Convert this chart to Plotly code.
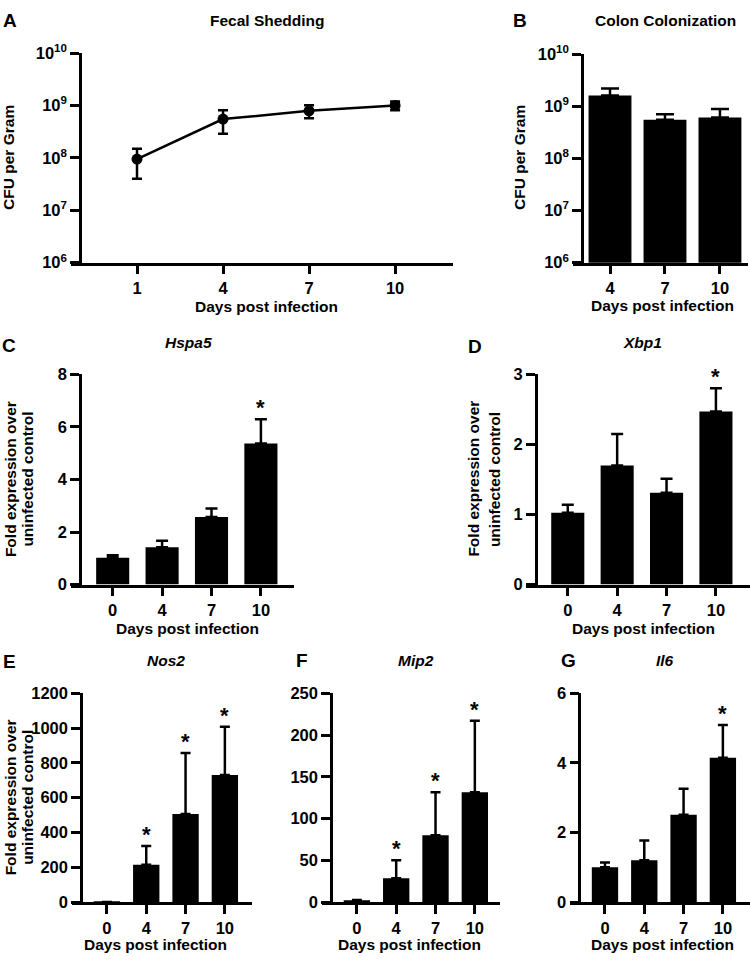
import plotly.graph_objects as go

# ---------------- data ----------------
fecal_days = [1, 4, 7, 10]
fecal_cfu = [9.5e7, 5.5e8, 7.9e8, 1.0e9]
fecal_sem = [5.5e7, 2.6e8, 2.2e8, 1.9e8]

colon_days = ["4", "7", "10"]
colon_cfu = [1.6e9, 5.5e8, 6.1e8]
colon_sem = [6.0e8, 1.5e8, 2.8e8]

gene_days = ["0", "4", "7", "10"]

hspa5_mean = [1.02, 1.42, 2.57, 5.37]
hspa5_sem = [0.10, 0.25, 0.32, 0.92]
hspa5_sig = [False, False, False, True]

xbp1_mean = [1.025, 1.70, 1.31, 2.47]
xbp1_sem = [0.115, 0.45, 0.20, 0.33]
xbp1_sig = [False, False, False, True]

nos2_mean = [1.0, 215, 506, 731]
nos2_sem = [0.3, 107, 351, 276]
nos2_sig = [False, True, True, True]

mip2_mean = [2.0, 28.5, 80, 131.6]
mip2_sem = [0.5, 21.5, 51.6, 85.4]
mip2_sig = [False, True, True, True]

il6_mean = [1.00, 1.20, 2.51, 4.15]
il6_sem = [0.14, 0.57, 0.75, 0.94]
il6_sig = [False, False, False, True]

log_tick_vals = [1e6, 1e7, 1e8, 1e9, 1e10]
log_tick_text = ["10<sup>6</sup>", "10<sup>7</sup>", "10<sup>8</sup>", "10<sup>9</sup>", "10<sup>10</sup>"]

# ---------------- style / layout helpers ----------------
W, H = 750, 965
FONT = "Liberation Sans, Arial, sans-serif"
FS = 15.5
TFS = 16.5
LW = 2.5


def fx(p):
    return p / W


def fy(p):
    return 1 - p / H


fig = go.Figure()
layout = dict(
    width=W, height=H, autosize=False,
    margin=dict(l=0, r=0, t=0, b=0),
    paper_bgcolor="white", plot_bgcolor="white",
    showlegend=False,
    font=dict(family=FONT, size=FS, color="black"),
)
annotations = []


def add_axes(idx, xdom, yaxis_px, ydom, xrange, yrange, xtype, ytype,
             ytickvals=None, yticktext=None, dtick=None):
    xa = "xaxis" if idx == 1 else f"xaxis{idx}"
    ya = "yaxis" if idx == 1 else f"yaxis{idx}"
    yname = "y" if idx == 1 else f"y{idx}"
    common = dict(showgrid=False, zeroline=False, showline=True, linecolor="black",
                  linewidth=LW, ticks="outside", ticklen=9, tickwidth=LW,
                  tickcolor="black",
                  tickfont=dict(family=FONT, size=TFS, color="black", weight="bold"))
    layout[xa] = dict(common, domain=[fx(xdom[0]), fx(xdom[1])], anchor=yname,
                      range=xrange, type=xtype, fixedrange=True)
    ydict = dict(common, domain=[fy(ydom[1]), fy(ydom[0])], anchor="free",
                 position=fx(yaxis_px), range=yrange, type=ytype, fixedrange=True)
    if ytickvals is not None:
        ydict.update(tickmode="array", tickvals=ytickvals, ticktext=yticktext)
    if dtick is not None:
        ydict.update(tickmode="linear", tick0=0, dtick=dtick)
    layout[ya] = ydict


def text(x, y, s, size=FS, angle=0, italic=False):
    t = f"<b>{s}</b>"
    if italic:
        t = f"<b><i>{s}</i></b>"
    annotations.append(dict(x=fx(x), y=fy(y), xref="paper", yref="paper", text=t,
                            showarrow=False, textangle=angle, xanchor="center",
                            yanchor="middle",
                            font=dict(family=FONT, size=size, color="black")))


def bar_panel(idx, cats, mean, sem, sig, width, capw):
    xn = "x" if idx == 1 else f"x{idx}"
    yn = "y" if idx == 1 else f"y{idx}"
    fig.add_trace(go.Bar(x=cats, y=mean, width=width, xaxis=xn, yaxis=yn,
                         marker=dict(color="black", line=dict(width=0)),
                         error_y=dict(type="data", symmetric=False, array=sem,
                                      arrayminus=[0] * len(sem), color="black",
                                      thickness=LW, width=capw)))
    if sig is not None:
        for i, (m, s, g) in enumerate(zip(mean, sem, sig)):
            if g:
                annotations.append(dict(x=i, y=m + s, xref=xn, yref=yn, text="<b>*</b>",
                                        showarrow=False, yanchor="bottom", yshift=-3,
                                        font=dict(family=FONT, size=22, color="black")))


# ---- A: fecal shedding (line, log) ----
fig.add_trace(go.Scatter(x=fecal_days, y=fecal_cfu, mode="lines+markers",
                         line=dict(color="black", width=LW),
                         marker=dict(color="black", size=11),
                         error_y=dict(type="data", array=fecal_sem, color="black",
                                      thickness=LW, width=5),
                         xaxis="x", yaxis="y"))
add_axes(1, (71, 453), 80, (43, 257), [-1.302, 12.02], [6, 10], "linear", "log",
         log_tick_vals, log_tick_text)
layout["xaxis"].update(tickmode="array", tickvals=fecal_days,
                       ticktext=[str(d) for d in fecal_days])
text(9.5, 10, "A", size=19)
text(267, 10, "Fecal Shedding")
text(9, 150, "CFU per Gram", angle=-90)
text(266, 302, "Days post infection")

# ---- B: colon colonization (bar, log) ----
bar_panel(2, colon_days, colon_cfu, colon_sem, None, 0.78, 9)
add_axes(2, (573, 748), 582, (44, 257), [-0.673, 2.51], [6, 10], "category", "log",
         log_tick_vals, log_tick_text)
text(520, 10, "B", size=19)
text(665, 10, "Colon Colonization")
text(520, 150, "CFU per Gram", angle=-90)
text(662, 301, "Days post infection")

# ---- C: Hspa5 ----
bar_panel(3, gene_days, hspa5_mean, hspa5_sem, hspa5_sig, 0.67, 6)
add_axes(3, (71, 294), 80, (371, 585.7), [-0.844, 3.67], [0, 8], "category", "linear",
         dtick=2)
text(9, 342, "C", size=19)
text(188, 339, "Hspa5", italic=True)
text(10, 478, "Fold expression over", angle=-90)
text(27.5, 478, "uninfected control", angle=-90)
text(187, 631, "Days post infection")

# ---- D: Xbp1 ----
bar_panel(4, gene_days, xbp1_mean, xbp1_sem, xbp1_sig, 0.67, 6)
add_axes(4, (525.7, 750), 535.7, (371, 585.7), [-0.852, 3.69], [0, 3], "category",
         "linear", dtick=1)
text(475, 343, "D", size=19)
text(642, 339, "Xbp1", italic=True)
text(473.5, 478, "Fold expression over", angle=-90)
text(494, 478, "uninfected control", angle=-90)
text(643, 631, "Days post infection")

# ---- E: Nos2 ----
bar_panel(5, gene_days, nos2_mean, nos2_sem, nos2_sig, 0.67, 5)
add_axes(5, (71.7, 252), 81, (696.7, 910), [-0.896, 3.69], [0, 1200], "category",
         "linear", dtick=200)
text(9, 664, "E", size=19)
text(166, 663, "Nos2", italic=True)
text(10, 803, "Fold expression over", angle=-90)
text(27.5, 803, "uninfected control", angle=-90)
text(155, 953, "Days post infection")

# ---- F: Mip2 ----
bar_panel(6, gene_days, mip2_mean, mip2_sem, mip2_sig, 0.67, 5)
add_axes(6, (321.5, 500), 331, (696.7, 910), [-0.90, 3.64], [0, 250], "category",
         "linear", dtick=50)
text(302, 663, "F", size=19)
text(416, 663, "Mip2", italic=True)
text(409, 953, "Days post infection")

# ---- G: Il6 ----
bar_panel(7, gene_days, il6_mean, il6_sem, il6_sig, 0.67, 5)
add_axes(7, (570, 750), 579.3, (696.7, 910), [-0.89, 3.69], [0, 6], "category",
         "linear", dtick=2)
text(568.5, 663, "G", size=19)
text(665, 663, "Il6", italic=True)
text(662, 953, "Days post infection")

layout["annotations"] = annotations
fig.update_layout(**layout)
fig.write_html("out.html", config={"displayModeBar": False},
               post_script="document.documentElement.style.margin='0';document.body.style.margin='0';document.body.style.overflow='hidden';")
